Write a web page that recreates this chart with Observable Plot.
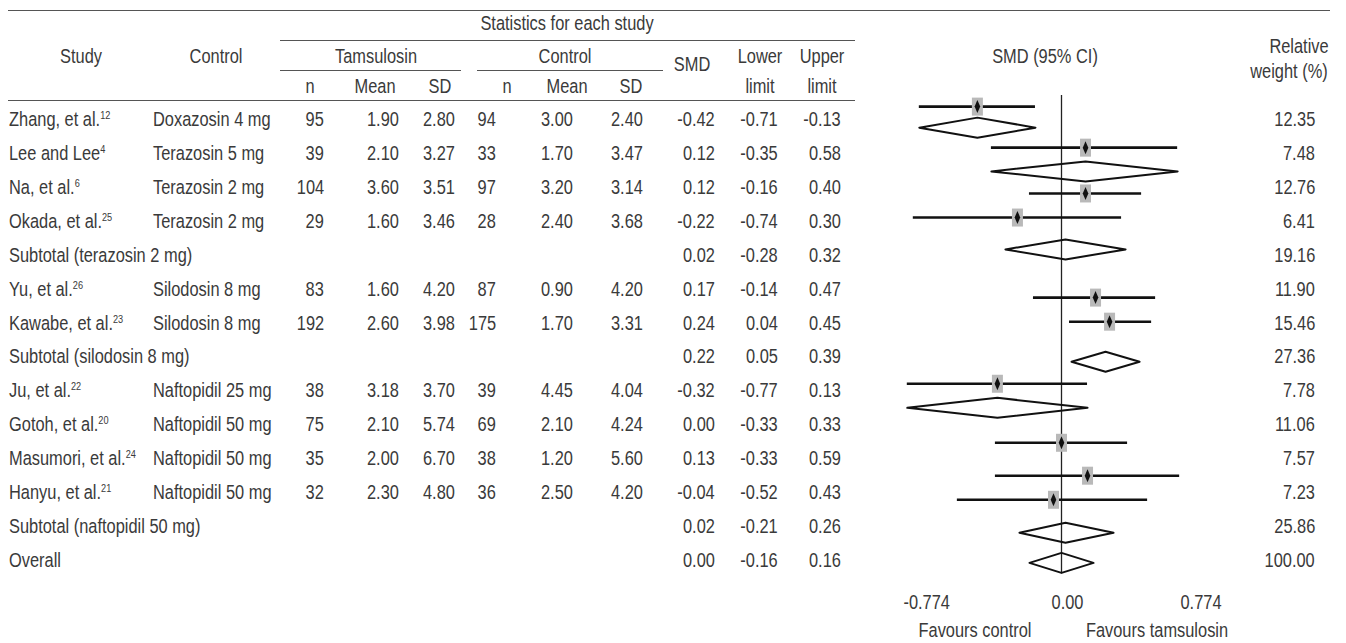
<!DOCTYPE html>
<html>
<head>
<meta charset="utf-8">
<script src="https://cdn.jsdelivr.net/npm/d3@7"></script>
<script src="https://cdn.jsdelivr.net/npm/@observablehq/plot@0.6"></script>
<style>
  html, body { margin: 0; padding: 0; background: #fff; }
  #wrap { position: relative; width: 1346px; height: 643px; overflow: hidden;
    font-family: "Liberation Sans", Arial, sans-serif;
    font-size: 20.5px; color: #3a3a3a; }
  .t { position: absolute; line-height: 1; white-space: nowrap; }
  .hl { position: absolute; height: 1px; background: #555; }
  sup { font-size: 0.56em; vertical-align: 0.62em; line-height: 0; }
  #plot { position: absolute; left: 880px; top: 0; }
</style>
</head>
<body>
<div id="wrap"><div id="plot"></div></div>
<script>
// ---------------- data ----------------
const rowLabel = ["Zhang, et al.", "Lee and Lee", "Na, et al.", "Okada, et al.", "Subtotal (terazosin 2 mg)",
  "Yu, et al.", "Kawabe, et al.", "Subtotal (silodosin 8 mg)", "Ju, et al.", "Gotoh, et al.",
  "Masumori, et al.", "Hanyu, et al.", "Subtotal (naftopidil 50 mg)", "Overall"];
const rowRef = ["12", "4", "6", "25", "", "26", "23", "", "22", "20", "24", "21", "", ""];
const rowControl = ["Doxazosin 4 mg", "Terazosin 5 mg", "Terazosin 2 mg", "Terazosin 2 mg", "",
  "Silodosin 8 mg", "Silodosin 8 mg", "", "Naftopidil 25 mg", "Naftopidil 50 mg",
  "Naftopidil 50 mg", "Naftopidil 50 mg", "", ""];
const tamN    = [95, 39, 104, 29, null, 83, 192, null, 38, 75, 35, 32, null, null];
const tamMean = [1.90, 2.10, 3.60, 1.60, null, 1.60, 2.60, null, 3.18, 2.10, 2.00, 2.30, null, null];
const tamSD   = [2.80, 3.27, 3.51, 3.46, null, 4.20, 3.98, null, 3.70, 5.74, 6.70, 4.80, null, null];
const ctlN    = [94, 33, 97, 28, null, 87, 175, null, 39, 69, 38, 36, null, null];
const ctlMean = [3.00, 1.70, 3.20, 2.40, null, 0.90, 1.70, null, 4.45, 2.10, 1.20, 2.50, null, null];
const ctlSD   = [2.40, 3.47, 3.14, 3.68, null, 4.20, 3.31, null, 4.04, 4.24, 5.60, 4.20, null, null];
const smd     = [-0.42, 0.12, 0.12, -0.22, 0.02, 0.17, 0.24, 0.22, -0.32, 0.00, 0.13, -0.04, 0.02, 0.00];
const lower   = [-0.71, -0.35, -0.16, -0.74, -0.28, -0.14, 0.04, 0.05, -0.77, -0.33, -0.33, -0.52, -0.21, -0.16];
const upper   = [-0.13, 0.58, 0.40, 0.30, 0.32, 0.47, 0.45, 0.39, 0.13, 0.33, 0.59, 0.43, 0.26, 0.16];
const weight  = [12.35, 7.48, 12.76, 6.41, 19.16, 11.90, 15.46, 27.36, 7.78, 11.06, 7.57, 7.23, 25.86, 100.00];

// forest glyphs as drawn in the figure: table row they show, kind, vertical position (row units)
const glyphRow  = [0, 0, 1, 1, 2, 3, 4, 5, 6, 7, 8, 8, 9, 10, 11, 12, 13];
const glyphKind = ["study", "diamond", "study", "diamond", "study", "study", "diamond", "study", "study",
  "diamond", "study", "diamond", "study", "study", "study", "diamond", "diamond"];
const glyphPos  = [-0.38, 0.24, 0.83, 1.53, 2.18, 2.89, 3.83, 5.25, 5.96, 7.14, 7.79, 8.50, 9.53, 10.50, 11.21, 12.18, 13.07];

const tickValues = [-0.774, 0, 0.774];
const tickLabels = ["-0.774", "0.00", "0.774"];

// ---------------- forest plot ----------------
const FONT = '"Liberation Sans", Arial, sans-serif';
const SX = 0.8; // horizontal condensing of the text
const glyphs = glyphRow.map((r, k) => ({row: r, kind: glyphKind[k], pos: glyphPos[k],
  est: smd[r], lo: lower[r], hi: upper[r]}));
const studies = glyphs.filter(g => g.kind === "study");
const H = 0.295; // diamond half-height in row units
const diamondPts = glyphs.filter(g => g.kind === "diamond").flatMap((g, k) => [
  {id: k, x: g.lo, y: g.pos}, {id: k, x: g.est, y: g.pos - H},
  {id: k, x: g.hi, y: g.pos}, {id: k, x: g.est, y: g.pos + H}]);

const boxSymbol = {draw(ctx) { ctx.rect(-5.5, -9, 11, 18); }};
const pointSymbol = {draw(ctx) { ctx.moveTo(0, -6.5); ctx.lineTo(2.8, 0); ctx.lineTo(0, 6.5); ctx.lineTo(-2.8, 0); ctx.closePath(); }};

const axisOpts = {tickSize: 0, tickPadding: 14, label: null, fill: "#3a3a3a",
  tickFormat: d => tickLabels[tickValues.indexOf(d)]};

const plot = Plot.plot({
  width: 466, height: 643,
  marginLeft: 26, marginRight: 130, marginTop: 0, marginBottom: 63,
  style: {fontFamily: FONT, fontSize: "20.5px", background: "transparent", overflow: "visible"},
  x: {domain: [-0.774, 0.774], axis: null},
  y: {domain: [0, 13], range: [119, 560], axis: null},
  marks: [
    Plot.ruleX([0], {y1: -0.71, y2: 13.39, stroke: "#222", strokeWidth: 1.3}),
    Plot.ruleY(studies, {y: "pos", x1: "lo", x2: "hi", stroke: "#111", strokeWidth: 2.6}),
    Plot.dot(studies, {x: "est", y: "pos", symbol: boxSymbol, fill: "#b9b9b9", stroke: "none"}),
    Plot.dot(studies, {x: "est", y: "pos", symbol: pointSymbol, fill: "#111", stroke: "none"}),
    Plot.line(diamondPts, {x: "x", y: "y", z: "id", curve: "linear-closed", stroke: "#111", strokeWidth: 2, fill: "none"}),
    Plot.axisX([tickValues[0]], {...axisOpts, textAnchor: "start", dx: -3}),
    Plot.axisX([tickValues[1]], {...axisOpts, textAnchor: "middle", dx: 6}),
    Plot.axisX([tickValues[2]], {...axisOpts, textAnchor: "end", dx: 5})
  ]
});
// condense the svg tick labels like the table text (scale about each label's own anchor)
plot.querySelectorAll("text").forEach(t => {
  const tr = t.getAttribute("transform") || "";
  t.setAttribute("transform", `${tr} scale(${SX},1)`);
});
document.getElementById("plot").appendChild(plot);

// ---------------- table text ----------------
const wrap = document.getElementById("wrap");
const yRow = i => plot.scale("y").apply(i);
function txt(html, x, y, align) {
  const d = document.createElement("div");
  d.className = "t";
  d.innerHTML = html;
  d.style.top = y + "px";
  if (align === "left") {
    d.style.left = x + "px"; d.style.transformOrigin = "0 50%";
    d.style.transform = `translateY(-50%) scaleX(${SX})`;
  } else if (align === "right") {
    d.style.right = (1346 - x) + "px"; d.style.transformOrigin = "100% 50%";
    d.style.transform = `translateY(-50%) scaleX(${SX})`;
  } else {
    d.style.left = x + "px"; d.style.transformOrigin = "50% 50%";
    d.style.transform = `translate(-50%,-50%) scaleX(${SX})`;
  }
  wrap.appendChild(d);
}
function hline(x1, x2, y) {
  const d = document.createElement("div");
  d.className = "hl";
  d.style.left = x1 + "px"; d.style.width = (x2 - x1) + "px"; d.style.top = y + "px";
  wrap.appendChild(d);
}

// header
hline(8, 1330, 10);
txt("Statistics for each study", 567, 23, "center");
hline(280, 855, 40);
txt("Study", 81, 56, "center");
txt("Control", 216, 56, "center");
txt("Tamsulosin", 376, 56, "center");
txt("Control", 565, 56, "center");
hline(280, 461, 70);
hline(477, 663, 70);
txt("SMD", 692, 64, "center");
txt("Lower", 760, 56, "center");
txt("Upper", 822, 56, "center");
txt("n", 310, 86, "center");
txt("Mean", 375, 86, "center");
txt("SD", 440, 86, "center");
txt("n", 507, 86, "center");
txt("Mean", 567, 86, "center");
txt("SD", 631, 86, "center");
txt("limit", 760, 86, "center");
txt("limit", 822, 86, "center");
hline(8, 855, 100);
txt("SMD (95% CI)", 1045, 56, "center");
txt("Relative", 1299, 46, "center");
txt("weight (%)", 1289, 71, "center");

const f2 = v => v == null ? "" : v.toFixed(2);
const fn = v => v == null ? "" : String(v);
rowLabel.forEach((lab, i) => {
  const y = yRow(i);
  txt(lab + (rowRef[i] ? "<sup>" + rowRef[i] + "</sup>" : ""), 9, y, "left");
  if (rowControl[i]) txt(rowControl[i], 153, y, "left");
  txt(fn(tamN[i]), 324, y, "right");
  txt(f2(tamMean[i]), 399, y, "right");
  txt(f2(tamSD[i]), 455, y, "right");
  txt(fn(ctlN[i]), 496, y, "right");
  txt(f2(ctlMean[i]), 573, y, "right");
  txt(f2(ctlSD[i]), 643, y, "right");
  txt(f2(smd[i]), 715, y, "right");
  txt(f2(lower[i]), 778, y, "right");
  txt(f2(upper[i]), 841, y, "right");
  txt(f2(weight[i]), 1315, y, "right");
});

txt("Favours control", 975, 630, "center");
txt("Favours tamsulosin", 1157, 630, "center");
</script>
</body>
</html>
